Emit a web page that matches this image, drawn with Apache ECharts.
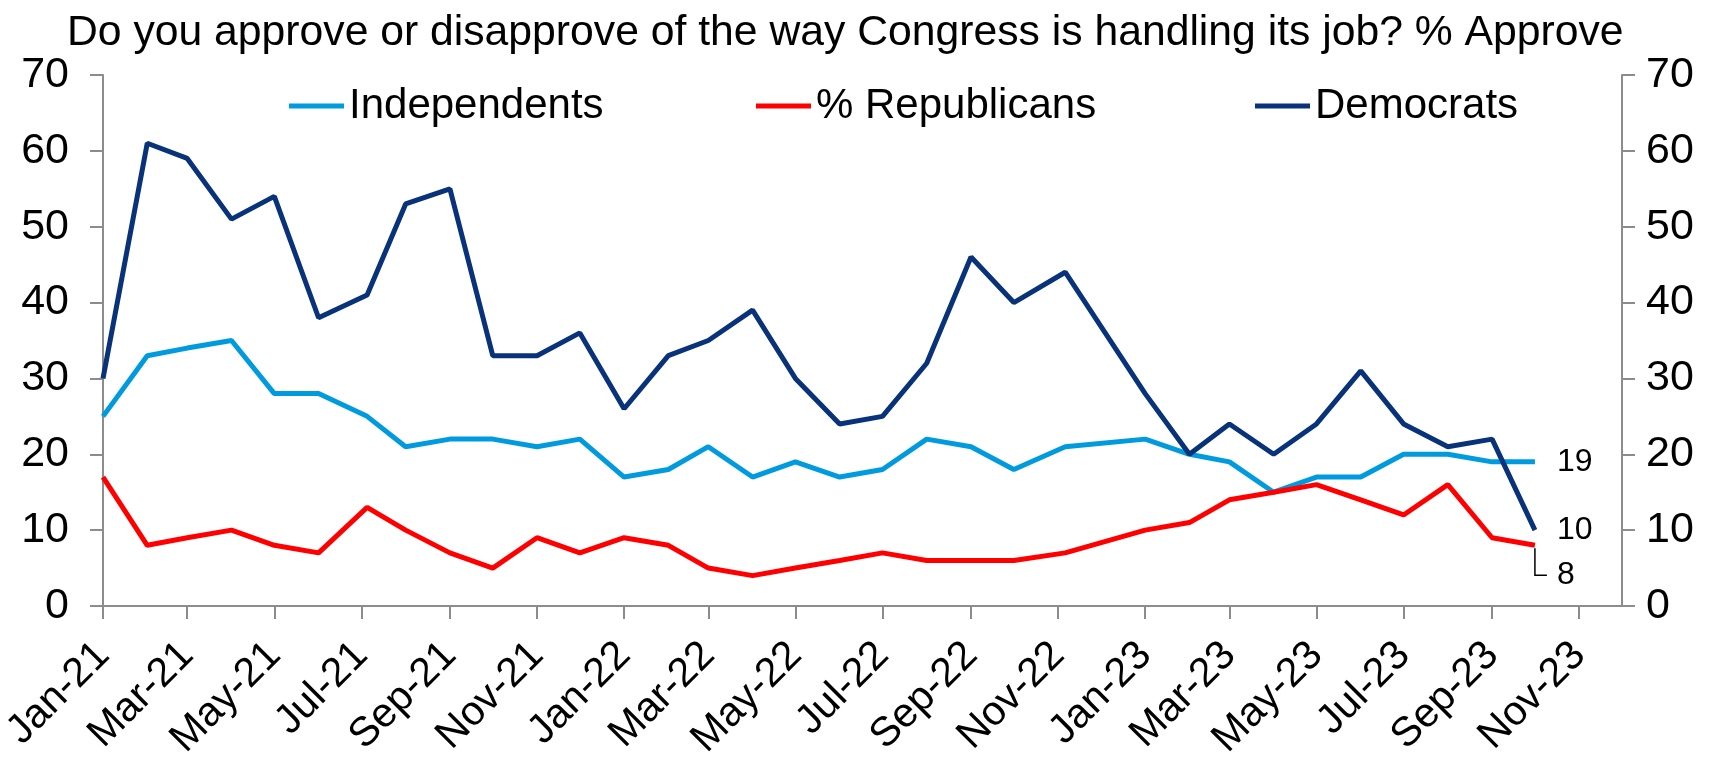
<!DOCTYPE html>
<html>
<head>
<meta charset="utf-8">
<script src="https://cdn.jsdelivr.net/npm/echarts@6/dist/echarts.min.js"></script>
<style>
html,body{margin:0;padding:0;background:#fff;}
#chart{width:1711px;height:759px;}
</style>
</head>
<body>
<div id="chart"></div>
<script>
// ---- data ----
const titleText = 'Do you approve or disapprove of the way Congress is handling its job? % Approve';
const dates = [
  '2021-01-01','2021-02-01','2021-03-01','2021-04-01','2021-05-01','2021-06-01',
  '2021-07-05','2021-08-01','2021-09-01','2021-10-01','2021-11-01','2021-12-01',
  '2022-01-01','2022-02-01','2022-03-01','2022-04-01','2022-05-01','2022-06-01',
  '2022-07-01','2022-08-01','2022-09-01','2022-10-01','2022-11-06',
  '2023-01-01','2023-02-01','2023-03-01','2023-04-01','2023-05-01','2023-06-01',
  '2023-07-01','2023-08-01','2023-09-01','2023-10-01'
];
const independents = [25,33,34,35,28,28,25,21,22,22,21,22, 17,18,21,17,19,17,18,22,21,18,21, 22,20,19,15,17,17,20,20,19,19];
const republicans  = [17,8,9,10,8,7,13,10,7,5,9,7, 9,8,5,4,5,6,7,6,6,6,7, 10,11,14,15,16,14,12,16,9,8];
const democrats    = [30,61,59,51,54,38,41,53,55,33,33,36, 26,33,35,39,30,24,25,32,46,40,44, 28,20,24,20,24,31,24,21,22,10];
const seriesNames = ['Independents', '% Republicans', 'Democrats'];
const tickDates = ['2021-01-01','2021-03-01','2021-05-01','2021-07-01','2021-09-01','2021-11-01',
  '2022-01-01','2022-03-01','2022-05-01','2022-07-01','2022-09-01','2022-11-01',
  '2023-01-01','2023-03-01','2023-05-01','2023-07-01','2023-09-01','2023-11-01'];
const tickLabels = ['Jan-21','Mar-21','May-21','Jul-21','Sep-21','Nov-21',
  'Jan-22','Mar-22','May-22','Jul-22','Sep-22','Nov-22',
  'Jan-23','Mar-23','May-23','Jul-23','Sep-23','Nov-23'];
const xMin = '2021-01-01', xMax = '2023-12-01';
const yTicks = {min: 0, max: 70, interval: 10};

// ---- helpers ----
const DAY = 86400000;
function dayNum(s){ const p = s.split('-').map(Number); return Math.round(Date.UTC(p[0], p[1]-1, p[2]) / DAY); }
const tickPos = tickDates.map(dayNum);
function pairs(vals){ return dates.map((d,i)=>[dayNum(d), vals[i]]); }

const FONT = '"Liberation Sans", Arial, sans-serif';
const AX = '#8c8c8c';
const colors = ['#009BDE', '#FF0000', '#08327A'];
const legendLeft = [289, 756, 1255];

const chart = echarts.init(document.getElementById('chart'), null, {renderer:'canvas'});

function yAxis(pos, margin){
  return {
    type:'value', position:pos, min:yTicks.min, max:yTicks.max, interval:yTicks.interval,
    axisLine:{show:true, lineStyle:{color:AX, width:2}},
    axisTick:{show:true, length:13, lineStyle:{color:AX, width:2}},
    splitLine:{show:false},
    axisLabel:{color:'#000', fontSize:43, fontFamily:FONT, margin:margin}
  };
}

function endLabel(offsetY){
  return {
    show:true, color:'#000', fontSize:32, fontFamily:FONT, distance:22,
    offset:[0, offsetY],
    formatter: p => String(p.value[1])
  };
}

const vals = [independents, republicans, democrats];
const series = seriesNames.map((n,i)=>({
  name:n, type:'line', data:pairs(vals[i]), showSymbol:false, symbol:'none',
  lineStyle:{color:colors[i], width:5}, itemStyle:{color:colors[i]},
  z: 2+i, animation:false,
  endLabel: endLabel(i===1 ? 30 : 0)
}));

const option = {
  animation:false,
  backgroundColor:'#fff',
  title:{text:titleText, left:67, top:12, padding:0,
    textStyle:{fontSize:42.7, fontWeight:'normal', color:'#000', fontFamily:FONT}},
  legend: seriesNames.map((n,i)=>({data:[n], left:legendLeft[i], top:85, padding:0,
    itemWidth:55, itemHeight:5, icon:'rect',
    textStyle:{fontSize:42, color:'#000', fontFamily:FONT}})),
  grid:{left:103, right:89, top:75, bottom:153, containLabel:false, outerBoundsMode:'none'},
  xAxis:{
    type:'value', min:dayNum(xMin), max:dayNum(xMax),
    axisLine:{show:true, onZero:false, lineStyle:{color:AX, width:2}},
    axisTick:{show:true, length:13, lineStyle:{color:AX, width:2}, customValues:tickPos},
    splitLine:{show:false},
    axisLabel:{customValues:tickPos, rotate:45, color:'#000', fontSize:41, fontFamily:FONT, margin:43,
      showMinLabel:true, showMaxLabel:true,
      formatter: v => { const k = tickPos.indexOf(v); return k>=0 ? tickLabels[k] : ''; }}
  },
  yAxis:[yAxis('left', 34), yAxis('right', 24)],
  series: series
};
chart.setOption(option);

// leader line for the Republican end label
const last = dates.length-1;
const p = chart.convertToPixel({xAxisIndex:0, yAxisIndex:0}, [dayNum(dates[last]), republicans[last]]);
chart.setOption({graphic:[{type:'polyline', silent:true, z:10,
  shape:{points:[[p[0], p[1]+3],[p[0], p[1]+30],[p[0]+12, p[1]+30]]},
  style:{stroke:'#000', lineWidth:1.5, fill:null}}]});
</script>
</body>
</html>
